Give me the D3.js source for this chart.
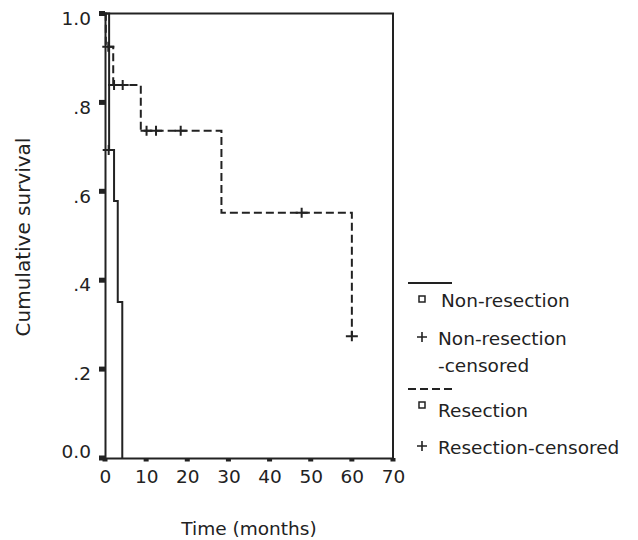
<!DOCTYPE html>
<html>
<head>
<meta charset="utf-8">
<script src="https://cdn.jsdelivr.net/npm/d3@7"></script>
<style>
  body { margin: 0; background: #fff; }
  text { font-family: "DejaVu Sans", sans-serif; font-size: 18.5px; fill: #222; }
</style>
</head>
<body>
<svg></svg>
<script>
// Kaplan-Meier steps
var nonResTimes = [0, 1, 2.2, 3.1, 4.2];
var nonResSurv = [1, 0.693, 0.578, 0.351, 0];
var nonResCensorTimes = [0.9];
var nonResCensorSurv = [0.693];

var resTimes = [0, 0.2, 2.0, 8.7, 28.3, 60];
var resSurv = [1, 0.925, 0.839, 0.736, 0.552, 0.274];
var resCensorTimes = [0.8, 2.2, 4.3, 10.1, 12.4, 18.4, 47.8, 60];
var resCensorSurv = [0.925, 0.839, 0.839, 0.736, 0.736, 0.736, 0.552, 0.274];

var xTicks = [0, 10, 20, 30, 40, 50, 60, 70];
var yTicks = [0, 0.2, 0.4, 0.6, 0.8, 1];
var yTickLabels = ["0.0", ".2", ".4", ".6", ".8", "1.0"];
var legendLabels = ["Non-resection", "Non-resection", "-censored", "Resection", "Resection-censored"];

var svgWidth = 638;
var svgHeight = 540;

var svg = d3.select("svg")
    .attr("width", svgWidth)
    .attr("height", svgHeight);

var x = d3.scaleLinear().domain([0, 70]).range([105, 393]);
var y = d3.scaleLinear().domain([0, 1]).range([458, 13.5]);

// frame: top and right
svg.append("path")
    .attr("d", "M" + x(0) + "," + y(1) + "H" + x(70) + "V" + y(0))
    .attr("fill", "none")
    .attr("stroke", "#222")
    .attr("stroke-width", 2);

// x axis
var xAxis = svg.append("g")
    .attr("transform", "translate(0," + y(0) + ")")
    .call(d3.axisBottom(x).tickValues(xTicks).tickSize(0).tickFormat(d3.format("d")));
xAxis.select(".domain").attr("stroke", "#222").attr("stroke-width", 2);
xAxis.selectAll("text")
    .attr("dy", null)
    .attr("y", 25)
    .style("font-size", "18.5px")
    .style("font-family", "DejaVu Sans");

// y axis
var yAxis = svg.append("g")
    .attr("transform", "translate(" + x(0) + ",0)")
    .call(d3.axisLeft(y).tickValues(yTicks).tickSize(0).tickPadding(14)
        .tickFormat(function(d, i) { return yTickLabels[i]; }));
yAxis.select(".domain").attr("stroke", "#222").attr("stroke-width", 2);
yAxis.selectAll("text")
    .attr("dy", function(d) { return d === 0 ? "-0.02em" : "0.58em"; })
    .style("font-size", "18.5px")
    .style("font-family", "DejaVu Sans");

// square tick marks
svg.selectAll(".xtick")
    .data(xTicks)
    .enter()
    .append("rect")
    .attr("x", function(d) { return x(d) - 2.5; })
    .attr("y", y(0))
    .attr("width", 5)
    .attr("height", 3.5)
    .attr("fill", "#222");

svg.selectAll(".ytick")
    .data(yTicks)
    .enter()
    .append("rect")
    .attr("x", x(0) - 6)
    .attr("y", function(d) { return y(d) - 2.5; })
    .attr("width", 6)
    .attr("height", 5)
    .attr("fill", "#222");

// survival curves
var step = d3.line()
    .x(function(d) { return x(d[0]); })
    .y(function(d) { return y(d[1]); })
    .curve(d3.curveStepAfter);

svg.append("path")
    .attr("d", step(d3.zip(nonResTimes, nonResSurv)))
    .attr("fill", "none")
    .attr("stroke", "#222")
    .attr("stroke-width", 2);

svg.append("path")
    .attr("d", step(d3.zip(resTimes, resSurv)))
    .attr("fill", "none")
    .attr("stroke", "#222")
    .attr("stroke-width", 2)
    .attr("stroke-dasharray", "8,4");

// censor crosses
var cross = "M-6,0H6M0,-5V5";
svg.selectAll(".cens")
    .data(d3.zip(nonResCensorTimes, nonResCensorSurv).concat(d3.zip(resCensorTimes, resCensorSurv)))
    .enter()
    .append("path")
    .attr("d", cross)
    .attr("transform", function(d) { return "translate(" + x(d[0]) + "," + y(d[1]) + ")"; })
    .attr("stroke", "#222")
    .attr("stroke-width", 2)
    .attr("fill", "none");

// axis titles
svg.append("text")
    .attr("x", (x(0) + x(70)) / 2)
    .attr("y", 535)
    .attr("text-anchor", "middle")
    .text("Time (months)");

svg.append("text")
    .attr("transform", "translate(30,237) rotate(-90)")
    .attr("text-anchor", "middle")
    .style("font-size", "20px")
    .text("Cumulative survival");

// legend
var legend = svg.append("g");
legend.append("line")
    .attr("x1", 408).attr("x2", 452).attr("y1", 283).attr("y2", 283)
    .attr("stroke", "#222").attr("stroke-width", 2);
legend.append("line")
    .attr("x1", 408).attr("x2", 452).attr("y1", 389).attr("y2", 389)
    .attr("stroke", "#222").attr("stroke-width", 2)
    .attr("stroke-dasharray", "8,4");

legend.selectAll(".sq")
    .data([299, 405])
    .enter()
    .append("rect")
    .attr("x", 419)
    .attr("y", function(d) { return d - 3; })
    .attr("width", 6)
    .attr("height", 6)
    .attr("fill", "none")
    .attr("stroke", "#222")
    .attr("stroke-width", 1.5);

legend.selectAll(".lc")
    .data([337, 446])
    .enter()
    .append("path")
    .attr("d", "M-5,0H5M0,-5V5")
    .attr("transform", function(d) { return "translate(422," + d + ")"; })
    .attr("stroke", "#222")
    .attr("stroke-width", 1.6);

var legendY = [307, 345, 371.5, 417, 454];
legend.selectAll(".lt")
    .data(legendLabels)
    .enter()
    .append("text")
    .attr("x", function(d, i) { return i === 0 ? 441 : 438; })
    .attr("y", function(d, i) { return legendY[i]; })
    .text(function(d) { return d; });
</script>
</body>
</html>
